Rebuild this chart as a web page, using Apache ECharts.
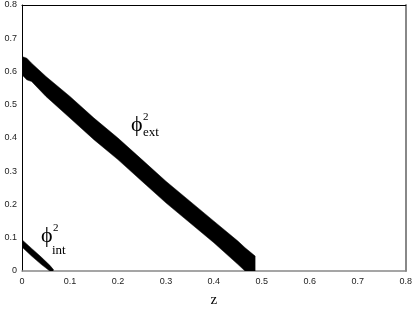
<!DOCTYPE html>
<html>
<head>
<meta charset="utf-8">
<script src="https://cdn.jsdelivr.net/npm/echarts@6/dist/echarts.min.js"></script>
<style>html,body{margin:0;padding:0;background:#fff}#c{width:415px;height:313px}</style>
</head>
<body>
<div id="c"></div>
<script>
// phi^2_ext band (z, upper edge, lower edge)
var extZ     = [0,     0.01,  0.02,  0.05,  0.10,  0.15,  0.20,  0.25,  0.30,  0.35,  0.40,  0.45,  0.465, 0.486];
var extUpper = [0.645, 0.64,  0.625, 0.585, 0.525, 0.46,  0.40,  0.335, 0.27,  0.21,  0.15,  0.09,  0.07,  0.045];
var extLower = [0.59,  0.575, 0.57,  0.525, 0.46,  0.395, 0.335, 0.27,  0.205, 0.145, 0.085, 0.02,  0,     0];
// phi^2_int band
var intZ     = [0,     0.02,  0.04,  0.058, 0.065];
var intUpper = [0.094, 0.068, 0.042, 0.017, 0.005];
var intLower = [0.072, 0.045, 0.02,  0,     0];
var xTicks = [0, 0.1, 0.2, 0.3, 0.4, 0.5, 0.6, 0.7, 0.8];
var yTicks = [0, 0.1, 0.2, 0.3, 0.4, 0.5, 0.6, 0.7, 0.8];

function bandSeries(zs, up, lo) {
  return {
    type: 'custom',
    coordinateSystem: 'cartesian2d',
    data: [[zs[0], up[0]]],
    clip: true,
    renderItem: function (params, api) {
      var pts = [];
      for (var i = 0; i < zs.length; i++) pts.push(api.coord([zs[i], up[i]]));
      for (var j = zs.length - 1; j >= 0; j--) pts.push(api.coord([zs[j], lo[j]]));
      return { type: 'polygon', shape: { points: pts }, style: { fill: '#000', stroke: '#000', lineWidth: 0.5 } };
    }
  };
}

var chart = echarts.init(document.getElementById('c'));
var lblFont = { fontFamily: 'Liberation Sans', fontSize: 9, color: '#222' };
chart.setOption({
  animation: false,
  grid: { left: 22, right: 9, top: 5, bottom: 41 },
  xAxis: [{
    type: 'value', min: xTicks[0], max: xTicks[xTicks.length - 1], interval: 0.1,
    axisLine: { show: true, onZero: false, lineStyle: { color: '#888', width: 1.5 } },
    axisTick: { show: false }, splitLine: { show: false },
    axisLabel: Object.assign({ margin: 6 }, lblFont),
    name: 'z', nameLocation: 'middle', nameGap: 22,
    nameTextStyle: { fontFamily: 'Liberation Serif', fontSize: 15, color: '#000' }
  }, {
    type: 'value', position: 'top', min: 0, max: 0.8,
    axisLine: { show: true, onZero: false, lineStyle: { color: '#000', width: 1 } },
    axisTick: { show: false }, splitLine: { show: false }, axisLabel: { show: false }
  }],
  yAxis: [{
    type: 'value', min: yTicks[0], max: yTicks[yTicks.length - 1], interval: 0.1,
    axisLine: { show: true, onZero: false, lineStyle: { color: '#000', width: 1 } },
    axisTick: { show: false }, splitLine: { show: false },
    axisLabel: Object.assign({ margin: 5 }, lblFont)
  }, {
    type: 'value', position: 'right', min: 0, max: 0.8,
    axisLine: { show: true, onZero: false, lineStyle: { color: '#888', width: 2 } },
    axisTick: { show: false }, splitLine: { show: false }, axisLabel: { show: false }
  }],
  series: [bandSeries(extZ, extUpper, extLower), bandSeries(intZ, intUpper, intLower)],
  graphic: [
    { type: 'text', left: 131, top: 114, style: { text: 'ϕ', font: '22px "Liberation Serif"', fill: '#000' } },
    { type: 'text', left: 143, top: 112, style: { text: '2', font: '11px "Liberation Serif"', fill: '#000' } },
    { type: 'text', left: 143, top: 126, style: { text: 'ext', font: '13px "Liberation Serif"', fill: '#000' } },
    { type: 'text', left: 41, top: 225, style: { text: 'ϕ', font: '22px "Liberation Serif"', fill: '#000' } },
    { type: 'text', left: 53, top: 223, style: { text: '2', font: '11px "Liberation Serif"', fill: '#000' } },
    { type: 'text', left: 52, top: 244, style: { text: 'int', font: '13px "Liberation Serif"', fill: '#000' } }
  ]
});
</script>
</body>
</html>
